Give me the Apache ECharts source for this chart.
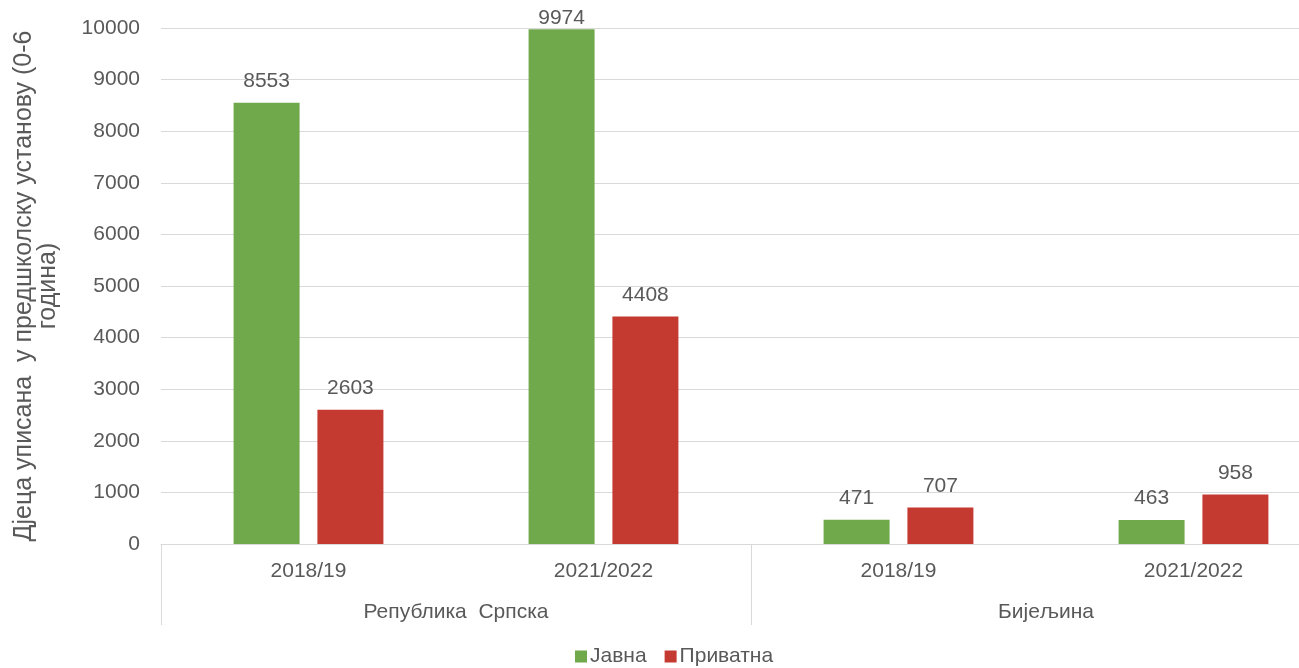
<!DOCTYPE html>
<html>
<head>
<meta charset="utf-8">
<script src="https://cdn.jsdelivr.net/npm/echarts@6/dist/echarts.min.js"></script>
<style>
  html, body { margin: 0; padding: 0; background: #fff; overflow: hidden; }
  /* the plot runs past the right edge of the window, as in the original layout */
  #chart { width: 1342px; height: 668px; }
</style>
</head>
<body>
<div id="chart"></div>
<script>
// Enrolment in preschool institutions, by region and school year
const years = ['2018/19', '2021/2022', '2018/19', '2021/2022'];
const regions = ['Република  Српска', 'Бијељина'];
const seriesNames = ['Јавна', 'Приватна'];
const publicValues = [8553, 9974, 471, 463];
const privateValues = [2603, 4408, 707, 958];
const yTitle = 'Дјеца уписана  у предшколску установу (0-6\nгодина)';

const FONT = '"Liberation Sans", Arial, sans-serif';
const TEXT = '#595959';
const LINE = '#d9d9d9';
const FS = 21;
const Y_MAX = 10000;

const chart = echarts.init(document.getElementById('chart'));

const labelStyle = {
  show: true,
  position: 'top',
  distance: 11,
  color: TEXT,
  fontSize: FS,
  fontFamily: FONT
};

// labels of bars that reach the top of the plot are tucked in close to the bar
function toItems(values) {
  return values.map(v => v > Y_MAX * 0.97 ? { value: v, label: { distance: 1 } } : v);
}

chart.setOption({
  animation: false,
  textStyle: { fontFamily: FONT },
  grid: { left: 161, top: 28, right: 1, bottom: 124, containLabel: false },
  legend: {
    left: 570,
    bottom: -4,
    icon: 'rect',
    itemWidth: 12,
    itemHeight: 12,
    itemGap: 18,
    textStyle: { color: TEXT, fontSize: FS, fontFamily: FONT, padding: [0, 0, 0, -2] },
    data: seriesNames
  },
  xAxis: [
    {
      type: 'category',
      position: 'bottom',
      data: years,
      axisLine: { show: true, lineStyle: { color: LINE, width: 1 } },
      axisTick: { show: false },
      axisLabel: { color: TEXT, fontSize: FS, margin: 17, fontFamily: FONT }
    },
    {
      type: 'category',
      position: 'bottom',
      data: regions,
      axisLine: { show: false },
      axisTick: { show: true, length: 81, lineStyle: { color: LINE, width: 1 } },
      axisLabel: { color: TEXT, fontSize: FS, margin: 58, fontFamily: FONT },
      splitLine: { show: false }
    }
  ],
  yAxis: {
    type: 'value',
    min: 0,
    max: Y_MAX,
    interval: 1000,
    name: yTitle,
    nameLocation: 'middle',
    nameRotate: 90,
    nameGap: 101,
    nameTextStyle: { color: TEXT, fontSize: 25, lineHeight: 24, fontFamily: FONT, align: 'center' },
    axisLine: { show: false },
    axisTick: { show: false },
    axisLabel: { color: TEXT, fontSize: FS, margin: 21, fontFamily: FONT, formatter: v => String(v) },
    splitLine: { lineStyle: { color: LINE, width: 1 } }
  },
  series: [
    {
      name: seriesNames[0],
      type: 'bar',
      xAxisIndex: 0,
      data: toItems(publicValues),
      barWidth: 66,
      barGap: '27%',
      itemStyle: { color: '#70a84c' },
      label: labelStyle
    },
    {
      name: seriesNames[1],
      type: 'bar',
      xAxisIndex: 0,
      data: toItems(privateValues),
      barWidth: 66,
      itemStyle: { color: '#c43a31' },
      label: labelStyle
    }
  ]
});
</script>
</body>
</html>
